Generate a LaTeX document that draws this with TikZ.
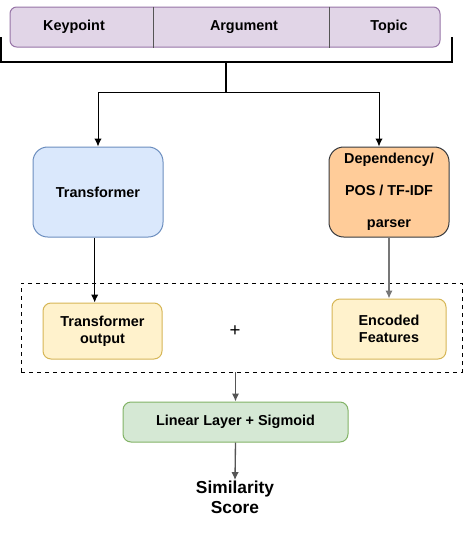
\documentclass[tikz,border=0pt]{standalone}
\usepackage{fontspec}
\setmainfont{Liberation Sans}
\usetikzlibrary{arrows.meta, positioning}
\definecolor{barfill}{HTML}{E1D5E7}
\definecolor{bardraw}{HTML}{9673A6}
\definecolor{bluefill}{HTML}{DAE8FC}
\definecolor{bluedraw}{HTML}{6C8EBF}
\definecolor{orangefill}{HTML}{FFCC99}
\definecolor{orangedraw}{HTML}{36393D}
\definecolor{yellowfill}{HTML}{FFF2CC}
\definecolor{yellowdraw}{HTML}{D6B656}
\definecolor{greenfill}{HTML}{D5E8D4}
\definecolor{greendraw}{HTML}{82B366}
\definecolor{wire}{HTML}{555555}
\definecolor{lightwire}{HTML}{777777}
\tikzstyle{block} = [draw, rectangle, rounded corners=6pt, inner sep=0pt, align=center, font=\fontsize{10.8}{13}\selectfont\bfseries]
\tikzstyle{field} = [inner sep=0pt, font=\fontsize{10.8}{13}\selectfont\bfseries]

\begin{document}
\begin{tikzpicture}[>={Latex[length=6pt,width=5.5pt]}, x=0.75pt, y=-0.75pt, line width=0.75pt]
    \useasboundingbox (0,0) rectangle (467,533);
    \node[block, fill=barfill, draw=bardraw, minimum width=322.5pt, minimum height=30pt, rounded corners=5pt] (bar) at (225,27) {};
    \node[field] (keypoint) at (74,27) {Keypoint};
    \node[field] (argument) at (244,27) {Argument};
    \node[field] (topic) at (389,27) {Topic};
    \draw[wire] (153,0 |- bar.north) -- (153,0 |- bar.south);
    \draw[wire] (329,0 |- bar.north) -- (329,0 |- bar.south);
    \coordinate (bl) at (1,37);
    \coordinate (br) at (452,37);
    \coordinate (stem) at (226,62);
    \coordinate (split) at (226,92);
    \node[block, fill=bluefill, draw=bluedraw, minimum width=97.5pt, minimum height=67.5pt, rounded corners=11pt] (trans) at (98,192) {Transformer};
    \node[block, fill=orangefill, draw=orangedraw, minimum width=90pt, minimum height=67.5pt, rounded corners=11pt] (dep) at (389,192) {\raisebox{-2pt}{\parbox{85pt}{\centering Dependency/\\[11pt]POS / TF-IDF\\[11pt]parser}}};
    \node[draw, dashed, line width=0.6pt, minimum width=330.75pt, minimum height=66.75pt, inner sep=0pt] (merge) at (241.5,327.5) {};
    \node[block, fill=yellowfill, draw=yellowdraw, minimum width=89.25pt, minimum height=42pt] (tout) at (102.5,331) {Transformer\\output};
    \node[block, fill=yellowfill, draw=yellowdraw, minimum width=85.5pt, minimum height=45pt] (enc) at (389,329) {Encoded\\Features};
    \node[font=\fontsize{14}{16}\selectfont] (plus) at (235,331) {+};
    \node[block, fill=greenfill, draw=greendraw, minimum width=168.75pt, minimum height=30pt] (linear) at (235.5,422) {Linear Layer + Sigmoid};
    \node[align=center, inner sep=0pt, font=\fontsize{13}{15}\selectfont\bfseries] (score) at (235,497) {Similarity\\Score};
    \draw[line width=1.3pt] (bl) |- (stem) -| (br);
    \draw[line width=1.3pt] (stem) -- (split);
    \draw[->] (split) -| (trans.north);
    \draw[->] (split) -| ([xshift=-7.5pt]dep.north);
    \draw[->] ([xshift=-2.5pt]trans.south) -- ([xshift=-2.5pt]trans.south |- tout.north);
    \draw[->, lightwire, line width=1pt] (dep.south) -- (enc.north);
    \draw[->, wire, line width=1pt] (merge.south -| linear.north) -- (linear.north);
    \draw[->, wire, line width=1pt] (linear.south) -- (score.north);
\end{tikzpicture}
\end{document}
